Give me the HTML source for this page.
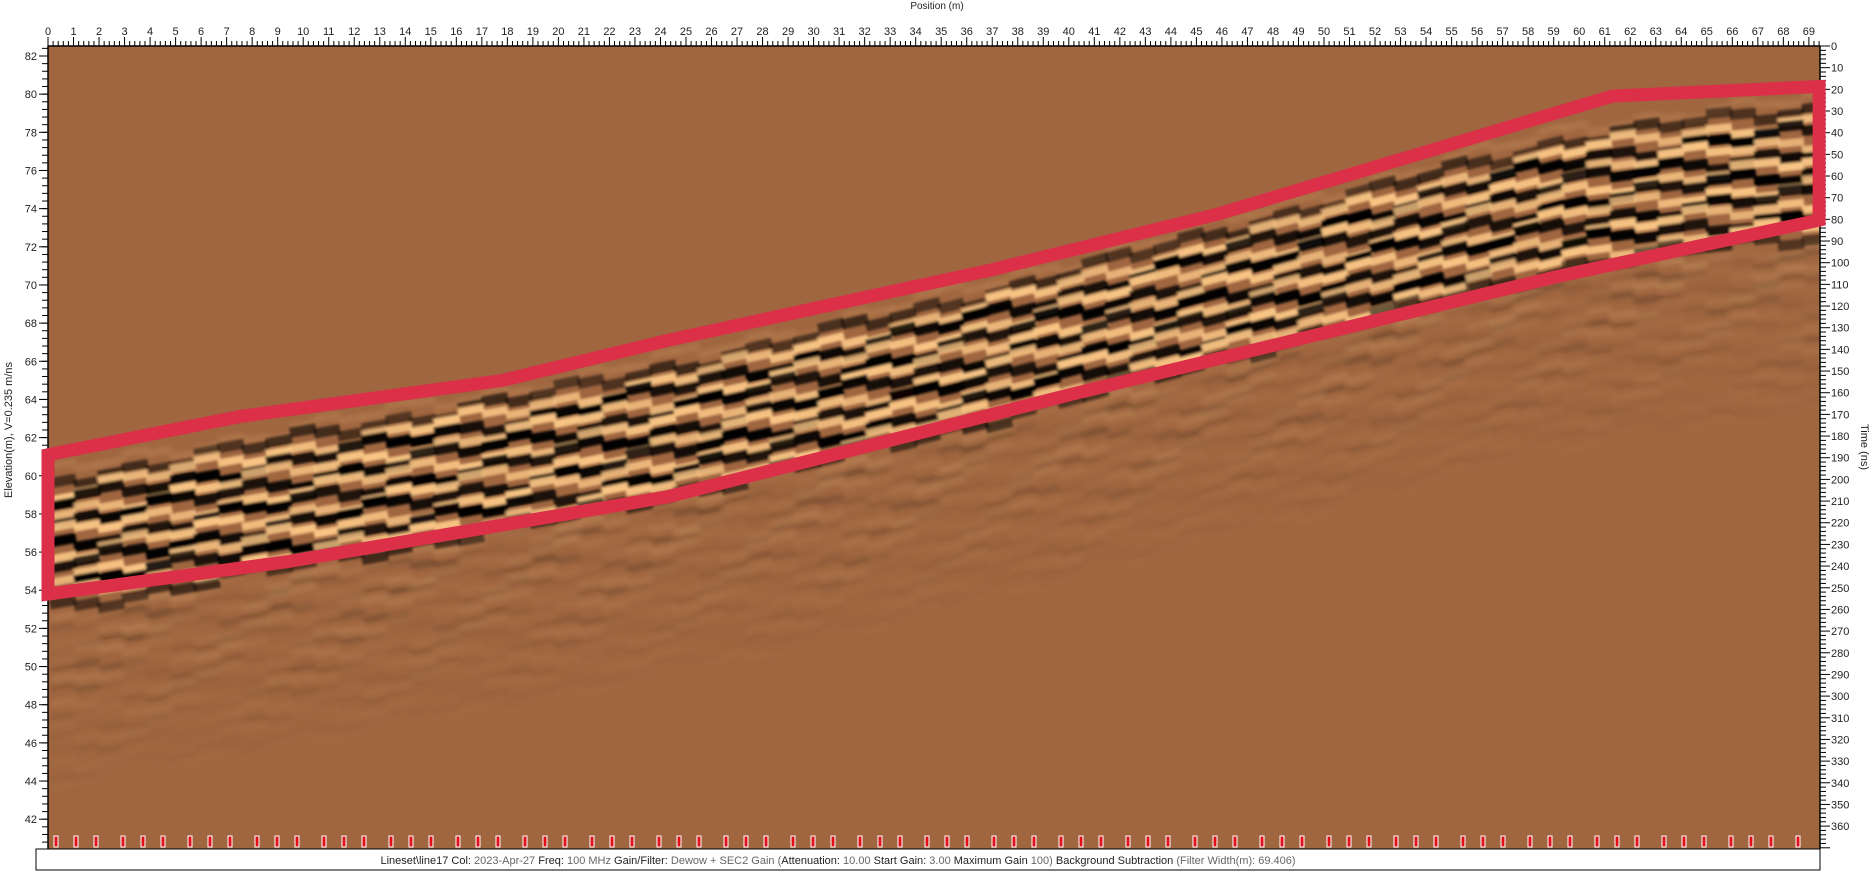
<!DOCTYPE html>
<html><head><meta charset="utf-8">
<style>
html,body{margin:0;padding:0;background:#fff;}
svg{display:block;font-family:"Liberation Sans",Arial,sans-serif;}
</style></head>
<body>
<svg id="chart" width="1873" height="871" viewBox="0 0 1873 871" xmlns="http://www.w3.org/2000/svg">
<defs>
<clipPath id="plotClip"><rect x="48" y="46" width="1772" height="803"/></clipPath>
<filter id="blur" x="-5%" y="-5%" width="110%" height="110%"><feGaussianBlur stdDeviation="1.4"/></filter>
<filter id="blur2" x="-5%" y="-5%" width="110%" height="110%"><feGaussianBlur stdDeviation="3"/></filter>
</defs>
<rect x="48" y="46" width="1772" height="803" fill="#9F6640"/>
<g id="texture" clip-path="url(#plotClip)"></g>
<g id="axes"></g>
<g id="poly"></g>
<g id="markers"></g>
<text x="937" y="9" font-size="10" text-anchor="middle" fill="#222">Position (m)</text>
<text transform="translate(12,430) rotate(-90)" font-size="11" text-anchor="middle" fill="#222">Elevation(m), V=0.235 m/ns</text>
<text transform="translate(1861,447) rotate(90)" font-size="11" text-anchor="middle" fill="#222">Time (ns)</text>
<rect x="36" y="849" width="1784" height="21" fill="#fff" stroke="#000" stroke-width="1"/>
<text x="838" y="864" font-size="11" text-anchor="middle" fill="#222">Lineset\line17  Col: <tspan fill="#666">2023-Apr-27</tspan> Freq: <tspan fill="#666">100 MHz</tspan> Gain/Filter: <tspan fill="#666">Dewow + SEC2 Gain (</tspan>Attenuation: <tspan fill="#666">10.00</tspan> Start Gain: <tspan fill="#666">3.00</tspan> Maximum Gain <tspan fill="#666">100)</tspan> Background Subtraction <tspan fill="#666">(Filter Width(m): 69.406)</tspan></text>
</svg>
<script>
const NS='http://www.w3.org/2000/svg';
// axis data
const posTicks=[];for(let i=0;i<=69;i++)posTicks.push(i);
const elevTicks=[82,80,78,76,74,72,70,68,66,64,62,60,58,56,54,52,50,48,46,44,42];
const timeTicks=[];for(let t=0;t<=360;t+=10)timeTicks.push(t);
// annotation polygon (position m, elevation m)
const polyPos=[0,7.5,17.8,24.3,37,45.8,61.3,69.4,69.4,59,40.2,24.3,9.4,0];
const polyElev=[61.1,63.1,65.0,67.1,70.8,73.7,79.9,80.4,73.4,70.4,64.3,58.9,55.5,53.8];
// top reflector elevation along the line
const refPos=[0,5,10,15,20,25,30,35,40,45,50,55,60,65,69.5];
const refElev=[59.8,61.0,62.2,63.4,64.6,66.0,67.5,69.1,70.8,72.6,74.4,76.2,77.9,78.8,79.4];
const xPos=p=>48+p*25.52;
const yElev=e=>56+(82-e)*19.08;
const yTime=t=>46+t*2.167;
function mk(tag,attrs,parent){const e=document.createElementNS(NS,tag);for(const k in attrs)e.setAttribute(k,attrs[k]);parent.appendChild(e);return e;}
function refY(x){
  for(let i=0;i<refPos.length-1;i++){const x0=xPos(refPos[i]),x1=xPos(refPos[i+1]);
    if(x<=x1||i===refPos.length-2){const t=(x-x0)/(x1-x0);return yElev(refElev[i]+t*(refElev[i+1]-refElev[i]));}}
}
// texture
const tex=document.getElementById('texture');
const gWeak=mk('g',{filter:'url(#blur2)'},tex);


const gStrong=mk('g',{filter:'url(#blur)'},tex);


const N=30;
for(let k=-1;k<N;k++){
  const dark=k%2===0;
  const strong=k>=0&&k<13;
  const g=strong?gStrong:gWeak;
  const col=dark?'#000000':'#F7C484';
  const off=k*10.5+4;
  for(let x=50,s=0;x<1820;x+=24,s++){
    const sh=5*Math.sin(s*1.7+k*0.9)+3*Math.sin(s*0.53+k*2.1);
    const w=strong?(dark?10:8):6;
    let op;
    if(strong){op=(k<1||k>11)?0.6:1;op*=0.9+0.1*Math.sin(s*0.8+k*1.3);}
    else{op=k<0?0.2:Math.max(0.04,0.28*(1-(k-13)/18))*(0.6+0.4*Math.sin(s*1.1+k*0.7));}
    mk('line',{x1:x,y1:refY(x)+off+sh,x2:x+26,y2:refY(x+26)+off+sh,stroke:col,'stroke-width':w,opacity:op.toFixed(2)},g);
  }
}
// axes
const ax=document.getElementById('axes');
mk('line',{x1:48,y1:46,x2:1820,y2:46,stroke:'#000','stroke-width':1.5},ax);
mk('line',{x1:48,y1:46,x2:48,y2:849,stroke:'#000','stroke-width':1.5},ax);
mk('line',{x1:1820,y1:46,x2:1820,y2:849,stroke:'#000','stroke-width':1.5},ax);
for(let i=0;i<=69*5+2;i++){const x=xPos(i/5);if(x>1820)break;const maj=i%5===0;
  mk('line',{x1:x,y1:46,x2:x,y2:maj?37:41,stroke:'#000','stroke-width':1},ax);}
posTicks.forEach(p=>{const t=mk('text',{x:xPos(p),y:35,'font-size':11,'text-anchor':'middle',fill:'#222'},ax);t.textContent=p;
  });
for(let e=82.8;e>=40.4;e-=0.4){const y=yElev(e);if(y<46||y>849)continue;
  mk('line',{x1:48,y1:y,x2:42,y2:y,stroke:'#000','stroke-width':1},ax);}
elevTicks.forEach(e=>{const y=yElev(e);mk('line',{x1:48,y1:y,x2:39,y2:y,stroke:'#000','stroke-width':1},ax);
  const t=mk('text',{x:37,y:y+4,'font-size':11,'text-anchor':'end',fill:'#222'},ax);t.textContent=e;
  });
for(let tt=0;tt<=370;tt+=2){const y=yTime(tt);if(y>849)break;
  mk('line',{x1:1820,y1:y,x2:tt%10===0?1830:1826,y2:y,stroke:'#000','stroke-width':1},ax);}
timeTicks.forEach(tt=>{const t=mk('text',{x:1831,y:yTime(tt)+4,'font-size':11,fill:'#222'},ax);t.textContent=tt;
  });
// polygon
const pg=document.getElementById('poly');
const pts=polyPos.map((p,i)=>xPos(p).toFixed(1)+','+yElev(polyElev[i]).toFixed(1)).join(' ');
const poly=mk('polygon',{points:pts,fill:'none',stroke:'#DC2F48','stroke-width':13,'stroke-linejoin':'miter'},pg);


// markers
const mg=document.getElementById('markers');
const gaps=[20,20,27];
for(let x=56,i=0;x<1805;x+=gaps[i%3],i++){
  const m=mk('rect',{x:x-2,y:836,width:4,height:11,fill:'#E0101A',stroke:'#fff','stroke-width':1},mg);
  
  
}
</script>
</body></html>
